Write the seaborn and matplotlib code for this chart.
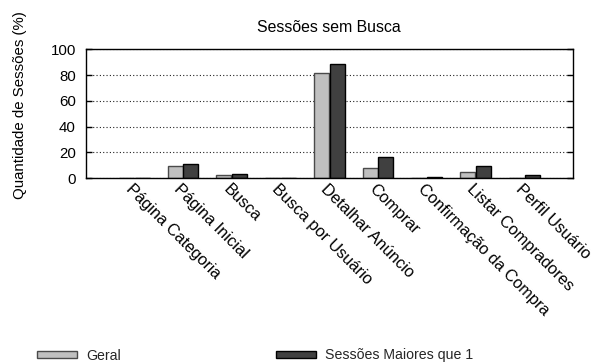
import matplotlib
matplotlib.use("Agg")
import matplotlib.pyplot as plt
import matplotlib.transforms as mtransforms
import pandas as pd
import seaborn as sns

# Page categories and the share of sessions (%) that reached each one
categorias = [
    "Página Categoria", "Página Inicial", "Busca", "Busca por Usuário",
    "Detalhar Anúncio", "Comprar", "Confirmação da Compra",
    "Listar Compradores", "Perfil Usuário",
]
geral = [0, 9, 2, 0, 82, 8, 0, 5, 0]
sessoes_maiores = [0, 11, 3, 0, 89, 16, 1, 9, 2]
series = ["Geral", "Sessões Maiores que 1"]
yticks = [0, 20, 40, 60, 80, 100]

df = pd.DataFrame({
    "categoria": categorias * 2,
    "valor": geral + sessoes_maiores,
    "serie": [series[0]] * len(categorias) + [series[1]] * len(categorias),
})

sns.set_theme(style="white")
plt.rcParams["font.family"] = ["Liberation Sans", "DejaVu Sans"]

fills = ["#c0c0c0", "#404040"]
edges = ["#4a4a4a", "#000000"]

fig = plt.figure(figsize=(5.94, 3.62), dpi=100)
ax = fig.add_axes([85.5 / 594, 1 - 178 / 362, (573 - 85.5) / 594, (178 - 49.5) / 362])

sns.barplot(
    data=df, x="categoria", y="valor", hue="serie", order=categorias,
    hue_order=series, palette=fills, width=0.64, gap=0.04,
    saturation=1, linewidth=1.0, ax=ax, legend=True,
)
for patch, edge in zip(ax.patches, [edges[0]] * len(categorias) + [edges[1]] * len(categorias)):
    patch.set_edgecolor(edge)

ax.set_xlim(-1, len(categorias))
ax.set_ylim(0, 100)
ax.set_yticks(yticks)
ax.set_yticklabels([str(v) for v in yticks], fontsize=10.8)
ax.set_xlabel("")
ax.set_ylabel("")

ax.yaxis.grid(True, linestyle=(0, (1, 2)), color="#222222", linewidth=0.8)
ax.set_axisbelow(True)
for s in ax.spines.values():
    s.set_visible(True)
    s.set_color("black")
    s.set_linewidth(1.0)

ax.tick_params(axis="y", direction="in", length=4, width=1, color="black",
               left=True, right=True, pad=7, labelcolor="black")
ax.tick_params(axis="x", length=0, pad=2)

ax.set_xticks(range(len(categorias)))
labels = ax.set_xticklabels(categorias, rotation=-45, ha="left", va="top",
                            rotation_mode="anchor", fontsize=11.8, color="black")
shift = mtransforms.ScaledTranslation(-1 / 100, -1 / 100, fig.dpi_scale_trans)
for lab in labels:
    lab.set_transform(lab.get_transform() + shift)

fig.text(328.5 / 594, 1 - 28 / 362, "Sessões sem Busca", ha="center", va="center",
         fontsize=11.4, color="black")
fig.text(20.5 / 594, 1 - 105 / 362, "Quantidade de Sessões (%)", ha="center",
         va="center", rotation=90, fontsize=10.8, color="black")

handles, lbls = ax.get_legend_handles_labels()
ax.get_legend().remove()
for h, fc, ec in zip(handles, fills, edges):
    h.set_facecolor(fc)
    h.set_edgecolor(ec)
    h.set_linewidth(1.0)
fig.legend(handles, lbls, loc="center left", bbox_to_anchor=(37 / 594, 1 - 355.5 / 362),
           ncol=2, frameon=False, fontsize=10.2, handlelength=2.85, handleheight=0.45,
           handletextpad=0.65, columnspacing=10.9, borderpad=0, borderaxespad=0)

fig.savefig("out.png", dpi=100)
